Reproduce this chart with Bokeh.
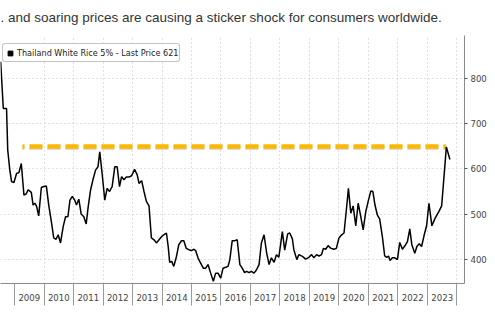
from bokeh.plotting import figure
from bokeh.models import Range1d, FixedTicker, Legend, LegendItem
from bokeh.embed import file_html
from bokeh.resources import INLINE

# ---- data ----
dates_dec = [
    2008.53, 2008.62, 2008.73, 2008.77, 2008.84, 2008.90, 2008.98, 2009.07, 2009.15, 2009.23,
    2009.32, 2009.40, 2009.46, 2009.57, 2009.63, 2009.69, 2009.75, 2009.82, 2009.91, 2009.99,
    2010.08, 2010.16, 2010.24, 2010.33, 2010.41, 2010.48, 2010.56, 2010.65, 2010.73, 2010.81,
    2010.88, 2010.96, 2011.04, 2011.10, 2011.18, 2011.26, 2011.35, 2011.43, 2011.50, 2011.58,
    2011.67, 2011.75, 2011.83, 2011.89, 2011.97, 2012.06, 2012.14, 2012.22, 2012.31, 2012.40,
    2012.48, 2012.56, 2012.63, 2012.71, 2012.79, 2012.88, 2012.97, 2013.07, 2013.16, 2013.22,
    2013.31, 2013.39, 2013.47, 2013.56, 2013.64, 2013.73, 2013.81, 2013.90, 2013.99, 2014.06,
    2014.15, 2014.21, 2014.26, 2014.33, 2014.40, 2014.49, 2014.57, 2014.66, 2014.74, 2014.82,
    2014.91, 2015.00, 2015.08, 2015.14, 2015.22, 2015.31, 2015.40, 2015.48, 2015.56, 2015.65,
    2015.74, 2015.82, 2015.90, 2015.99, 2016.07, 2016.16, 2016.24, 2016.30, 2016.38, 2016.47,
    2016.55, 2016.64, 2016.72, 2016.80, 2016.87, 2016.95, 2017.03, 2017.12, 2017.20, 2017.29,
    2017.37, 2017.46, 2017.55, 2017.63, 2017.71, 2017.80, 2017.88, 2017.96, 2018.02, 2018.08,
    2018.16, 2018.26, 2018.33, 2018.42, 2018.47, 2018.57, 2018.64, 2018.76, 2018.87, 2018.98,
    2019.07, 2019.15, 2019.24, 2019.32, 2019.41, 2019.47, 2019.55, 2019.63, 2019.72, 2019.83,
    2019.91, 2020.00, 2020.09, 2020.17, 2020.25, 2020.32, 2020.40, 2020.48, 2020.57, 2020.65,
    2020.74, 2020.82, 2020.91, 2021.00, 2021.08, 2021.15, 2021.22, 2021.30, 2021.38, 2021.47,
    2021.55, 2021.62, 2021.68, 2021.73, 2021.81, 2021.89, 2021.98, 2022.06, 2022.15, 2022.26,
    2022.32, 2022.40, 2022.47, 2022.57, 2022.64, 2022.72, 2022.80, 2022.89, 2022.97, 2023.05,
    2023.15, 2023.26, 2023.39, 2023.48, 2023.56, 2023.64, 2023.76,
]
prices = [
    838, 734, 734, 642, 598, 572, 570, 590, 592, 612,
    542, 545, 554, 548, 520, 524, 517, 496, 559, 561,
    562, 520, 487, 447, 444, 454, 436, 472, 494, 494,
    531, 539, 531, 520, 533, 500, 494, 478, 517, 554,
    579, 598, 605, 638, 590, 531, 557, 550, 561, 605,
    605, 561, 583, 576, 582, 582, 585, 599, 587, 568,
    574, 550, 528, 518, 447, 443, 436, 443, 450, 454,
    458, 428, 393, 395, 384, 406, 432, 441, 441, 424,
    421, 419, 422, 419, 403, 391, 380, 380, 388, 369,
    351, 369, 369, 358, 380, 382, 384, 399, 441, 441,
    443, 388, 380, 370, 373, 370, 373, 369, 376, 388,
    436, 454, 413, 388, 403, 393, 410, 404, 432, 461,
    420, 456, 458, 445, 421, 399, 410, 406, 400, 404,
    410, 403, 410, 407, 410, 424, 422, 430, 424, 422,
    424, 447, 454, 458, 509, 557, 502, 518, 474, 524,
    494, 465, 506, 531, 551, 550, 520, 498, 489, 450,
    407, 404, 407, 397, 403, 403, 399, 437, 422, 432,
    439, 467, 432, 413, 428, 434, 428, 454, 474, 524,
    474, 491, 506, 518, 583, 649, 621,
]
year_labels = ["2009", "2010", "2011", "2012", "2013", "2014", "2015", "2016",
               "2017", "2018", "2019", "2020", "2021", "2022", "2023"]
year_mids = [2009.5, 2010.5, 2011.5, 2012.5, 2013.5, 2014.5, 2015.5, 2016.5,
             2017.5, 2018.5, 2019.5, 2020.5, 2021.5, 2022.5, 2023.5]
year_bounds = [2009, 2010, 2011, 2012, 2013, 2014, 2015, 2016, 2017, 2018,
               2019, 2020, 2021, 2022, 2023, 2024]
grid_years = [2010, 2011, 2012, 2013, 2014, 2015, 2016, 2017, 2018, 2019,
              2020, 2021, 2022, 2023, 2024]
y_ticks = [400, 500, 600, 700, 800]
ref_level = 650
ref_start = 2009.27
ref_end = 2023.62
legend_label = "Thailand White Rice 5% - Last Price 621"
title_text = ". and soaring prices are causing a sticker shock for consumers worldwide."

COND = "DejaVu Sans Condensed, Liberation Sans Narrow, Roboto Condensed, Roboto"

p = figure(width=495, height=321, output_backend="svg", toolbar_location=None,
           x_range=Range1d(2008.525, 2024.255), y_range=Range1d(346, 896),
           y_axis_location="right",
           min_border_left=0, min_border_right=31, min_border_top=35, min_border_bottom=38)
p.outline_line_color = None
p.background_fill_color = "white"
p.border_fill_color = "white"

p.title.text = title_text
p.title.align = "left"
p.title.vertical_align = "top"
p.title.text_font = "Liberation Sans"
p.title.text_font_size = "13.5px"
p.title.text_font_style = "normal"
p.title.text_color = "#333333"
p.title.standoff = 18

# grids
p.xgrid.ticker = FixedTicker(ticks=grid_years)
p.ygrid.ticker = FixedTicker(ticks=y_ticks)
for g in (p.xgrid, p.ygrid):
    g.grid_line_color = "#c4c4c4"
    g.grid_line_dash = "1 3"
    g.grid_line_width = 1

# x axis: labels centred in each year, separators at year boundaries
xa = p.xaxis[0]
xa.ticker = FixedTicker(ticks=year_mids, minor_ticks=year_bounds)
xa.major_label_overrides = {m: l for m, l in zip(year_mids, year_labels)}
xa.major_tick_out = 0
xa.major_tick_in = 0
xa.minor_tick_out = 22
xa.minor_tick_in = 0
xa.minor_tick_line_color = "#9a9a9a"
xa.axis_line_color = "#8a8a8a"
xa.major_label_standoff = -12
xa.major_label_text_font = COND
xa.major_label_text_font_size = "9.5px"
xa.major_label_text_color = "#444444"

ya = p.yaxis[0]
ya.ticker = FixedTicker(ticks=y_ticks)
ya.major_tick_out = 3
ya.major_tick_in = 0
ya.minor_tick_out = 0
ya.minor_tick_in = 0
ya.major_tick_line_color = "#555555"
ya.axis_line_color = "#8a8a8a"
ya.major_label_standoff = 3
ya.major_label_text_font = COND
ya.major_label_text_font_size = "9.5px"
ya.major_label_text_color = "#444444"

# reference level (shadow + orange dashes)
p.line([ref_start, ref_end], [ref_level - 2.5, ref_level - 2.5], line_color="#777777",
       line_alpha=0.35, line_width=4.5, line_dash="13 5", line_dash_offset=11)
p.line([ref_start, ref_end], [ref_level, ref_level], line_color="#FFB800",
       line_width=4.5, line_dash="13 5", line_dash_offset=11)

# price series
p.line(dates_dec, prices, line_color="black", line_width=1.5)

# legend (square key; renderer holds no visible point)
sq = p.scatter([float("nan")], [float("nan")], marker="square", size=5, color="black")
legend = Legend(items=[LegendItem(label=legend_label, renderers=[sq])],
                location=(2, 221), padding=1, glyph_width=12, glyph_height=12,
                label_standoff=1, label_height=15, spacing=0, margin=0,
                label_text_font=COND, label_text_font_size="9px",
                label_text_color="#222222",
                border_line_color="#8a8a8a", border_line_width=1,
                background_fill_color="white", background_fill_alpha=1.0)
if "border_radius" in Legend.properties():
    legend.border_radius = 3
p.add_layout(legend)

open("out.html", "w").write(file_html(p, INLINE))
